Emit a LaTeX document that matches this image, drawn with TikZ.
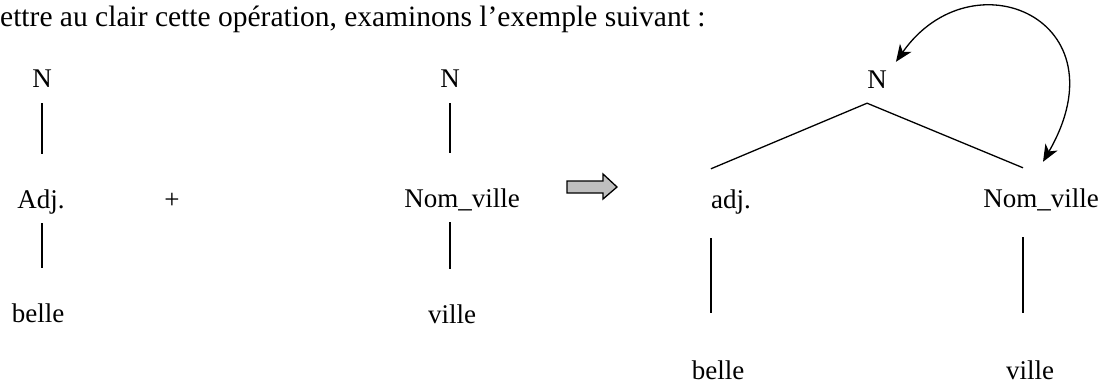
\documentclass[tikz,border=0pt]{standalone}
\usepackage{fontspec}
\setmainfont{Liberation Serif}
\usetikzlibrary{arrows.meta}

\begin{document}
\begin{tikzpicture}[x=1pt, y=-1pt, >={Stealth[length=17pt,width=14pt,inset=5pt]},
  word/.style={inner sep=0pt, anchor=base, text height=19pt, text depth=6pt, font=\fontsize{27pt}{32pt}\selectfont},
  stem/.style={line width=1.3pt, shorten <=9pt, shorten >=35pt},
  longstem/.style={line width=1.3pt, shorten <=24pt, shorten >=47pt},
  branch/.style={line width=1.3pt}]
\useasboundingbox (0,0) rectangle (1110,385);
% phrase d'introduction
\node[word, anchor=base west, font=\fontsize{29.5pt}{34pt}\selectfont] (intro) at (0,27) {ettre au clair cette opération, examinons l’exemple suivant :};
% premier arbre
\node[word] (n1) at (42,88) {N};
\node[word] (adj1) at (41,208) {Adj.};
\node[word] (belle1) at (38,322) {belle};
\node[word] (plus) at (172,208) {+};
% second arbre
\node[word] (n2) at (450,88) {N};
\node[word] (nom2) at (462,207) {Nom\_ville};
\node[word] (ville2) at (452,323) {ville};
% arbre fusionne
\node[word] (n3) at (877,89) {N};
\node[word] (adj3) at (731,208) {adj.};
\node[word] (nom3) at (1041,207) {Nom\_ville};
\node[word] (belle3) at (718,379) {belle};
\node[word] (ville3) at (1030,379) {ville};
\coordinate (top3) at ([yshift=-8pt]n3.south west);
\coordinate (left3) at ([yshift=20pt]adj3.north west);
\coordinate (right3) at ([xshift=-18pt, yshift=20pt]nom3.north);
\draw[stem] (n1.south) -- (n1.south |- adj1.north);
\draw[stem] (n1.south |- adj1.south) -- (n1.south |- belle1.north);
\draw[stem] (n2.south) -- (n2.south |- nom2.north);
\draw[stem] (n2.south |- nom2.south) -- (n2.south |- ville2.north);
\draw[branch] (left3) -- (top3) -- (right3);
\draw[longstem] (adj3.south west) -- (adj3.south west |- belle3.north);
\draw[longstem] ([xshift=-18pt]nom3.south) -- ([xshift=-18pt]nom3.south |- ville3.north);
% fleche de transformation
\draw[line width=1.3pt, fill=black!25] (567,181) -- (603,181) -- (603,174) -- (617,187)
  -- (603,199) -- (603,193) -- (567,193) -- cycle;
% fleche courbe
\draw[<->, line width=1.3pt] ([shift={(9pt,8pt)}]n3.north east)
  .. controls +(55:132pt) and +(60:165pt) .. ([shift={(2pt,26pt)}]nom3.north);
\end{tikzpicture}
\end{document}
